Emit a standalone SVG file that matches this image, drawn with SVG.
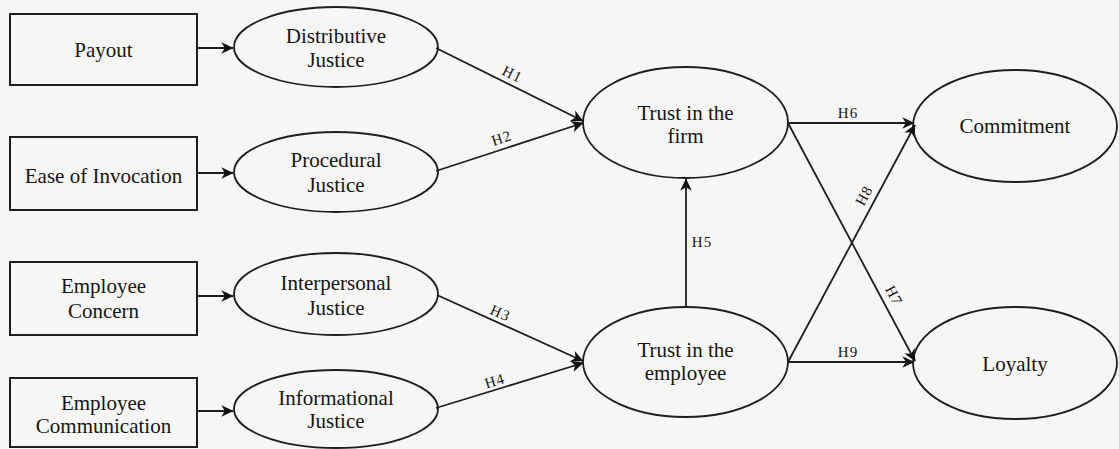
<svg xmlns="http://www.w3.org/2000/svg" width="1119" height="449" viewBox="0 0 1119 449">
  <defs>
    <style>
      .box { fill: none; stroke: #1e1e1e; stroke-width: 2; }
      .ell { fill: none; stroke: #1e1e1e; stroke-width: 1.8; }
      .lbl { font-family: "Liberation Serif", "Times New Roman", serif; font-size: 21px; fill: #151515; text-anchor: middle; }
      .hyp { font-family: "Liberation Serif", "Times New Roman", serif; font-size: 15px; fill: #151515; text-anchor: middle; letter-spacing: 1px; }
      .edge { fill: none; stroke: #1e1e1e; stroke-width: 1.8; marker-end: url(#arrow); }
    </style>
    <marker id="arrow" viewBox="0 0 12 12" refX="11" refY="6" markerWidth="14" markerHeight="14" markerUnits="userSpaceOnUse" orient="auto">
      <path d="M1,1 L11.5,6 L1,11 L4,6 Z" fill="#111"/>
    </marker>
  </defs>

  <rect width="1119" height="449" fill="#f6f6f4"/>

  <!-- antecedent boxes -->
  <g id="payout">
    <rect class="box" x="10" y="14" width="187" height="71"/>
    <text class="lbl" x="103.5" y="57">Payout</text>
  </g>
  <g id="ease-of-invocation">
    <rect class="box" x="10" y="137" width="187" height="73"/>
    <text class="lbl" x="103.5" y="183">Ease of Invocation</text>
  </g>
  <g id="employee-concern">
    <rect class="box" x="10" y="262" width="187" height="73"/>
    <text class="lbl" x="103.5" y="293">Employee</text>
    <text class="lbl" x="103.5" y="318">Concern</text>
  </g>
  <g id="employee-communication">
    <rect class="box" x="10" y="378" width="187" height="69"/>
    <text class="lbl" x="103.5" y="410">Employee</text>
    <text class="lbl" x="103.5" y="433">Communication</text>
  </g>

  <!-- justice constructs -->
  <g id="distributive-justice">
    <ellipse class="ell" cx="336" cy="47" rx="102" ry="40"/>
    <text class="lbl" x="336" y="43">Distributive</text>
    <text class="lbl" x="336" y="67">Justice</text>
  </g>
  <g id="procedural-justice">
    <ellipse class="ell" cx="336" cy="172" rx="102" ry="40"/>
    <text class="lbl" x="336" y="167">Procedural</text>
    <text class="lbl" x="336" y="192">Justice</text>
  </g>
  <g id="interpersonal-justice">
    <ellipse class="ell" cx="336" cy="294" rx="102" ry="41"/>
    <text class="lbl" x="336" y="290">Interpersonal</text>
    <text class="lbl" x="336" y="315">Justice</text>
  </g>
  <g id="informational-justice">
    <ellipse class="ell" cx="336" cy="409" rx="102" ry="39"/>
    <text class="lbl" x="336" y="405">Informational</text>
    <text class="lbl" x="336" y="428">Justice</text>
  </g>

  <!-- trust constructs -->
  <g id="trust-firm">
    <ellipse class="ell" cx="685.5" cy="122.5" rx="102.5" ry="55.5"/>
    <text class="lbl" x="685.5" y="120">Trust in the</text>
    <text class="lbl" x="685.5" y="143">firm</text>
  </g>
  <g id="trust-employee">
    <ellipse class="ell" cx="685.5" cy="362" rx="102.5" ry="55"/>
    <text class="lbl" x="685.5" y="357">Trust in the</text>
    <text class="lbl" x="685.5" y="380">employee</text>
  </g>

  <!-- outcomes -->
  <g id="commitment">
    <ellipse class="ell" cx="1015" cy="126" rx="102" ry="56"/>
    <text class="lbl" x="1015" y="133">Commitment</text>
  </g>
  <g id="loyalty">
    <ellipse class="ell" cx="1015" cy="363" rx="102" ry="56"/>
    <text class="lbl" x="1015" y="371">Loyalty</text>
  </g>

  <!-- connectors -->
  <g id="connectors">
    <line class="edge" x1="197" y1="48" x2="233" y2="48"/>
    <line class="edge" x1="197" y1="173" x2="233" y2="173"/>
    <line class="edge" x1="197" y1="296" x2="233" y2="296"/>
    <line class="edge" x1="197" y1="411" x2="233" y2="411"/>

    <line class="edge" x1="436" y1="48" x2="583" y2="121"/>
    <line class="edge" x1="436" y1="171" x2="583" y2="123"/>
    <line class="edge" x1="437" y1="295" x2="583" y2="361"/>
    <line class="edge" x1="436" y1="408" x2="583" y2="363"/>

    <line class="edge" x1="686" y1="307" x2="686" y2="179"/>

    <line class="edge" x1="788" y1="123" x2="914" y2="123"/>
    <line class="edge" x1="788" y1="123" x2="915" y2="361"/>
    <line class="edge" x1="788" y1="362" x2="915" y2="125"/>
    <line class="edge" x1="788" y1="362" x2="914" y2="362"/>

    <text class="hyp" transform="translate(512 75) rotate(26.5)" y="4">H1</text>
    <text class="hyp" transform="translate(502 139) rotate(-18)" y="4">H2</text>
    <text class="hyp" transform="translate(500 314) rotate(24)" y="4">H3</text>
    <text class="hyp" transform="translate(495 382) rotate(-17)" y="4">H4</text>
    <text class="hyp" x="702" y="247">H5</text>
    <text class="hyp" x="848" y="118">H6</text>
    <text class="hyp" transform="translate(893 296) rotate(62)" y="4">H7</text>
    <text class="hyp" transform="translate(865 196) rotate(-62)" y="4">H8</text>
    <text class="hyp" x="848" y="357">H9</text>
  </g>
</svg>
